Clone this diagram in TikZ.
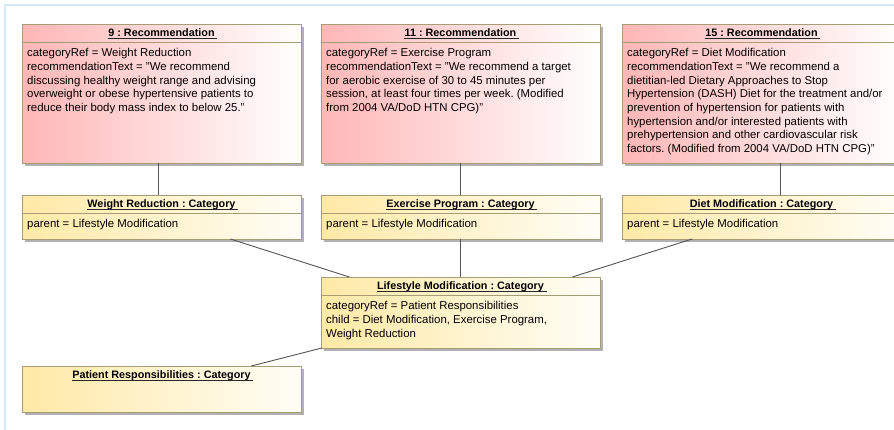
\documentclass[tikz,border=0pt]{standalone}
\usepackage{fontspec}
\setmainfont{Liberation Sans}
\usetikzlibrary{shadows}
\frenchspacing

\definecolor{recpink}{RGB}{255,182,182}
\definecolor{catyellow}{RGB}{255,233,166}
\definecolor{catwhite}{RGB}{255,254,246}
\definecolor{boxline}{RGB}{166,156,118}
\definecolor{shadowgray}{RGB}{178,178,178}
\definecolor{frameblue}{RGB}{212,232,249}
\definecolor{linkgray}{RGB}{85,85,85}

\tikzset{
  umlbox/.style={draw=boxline, line width=0.9pt, anchor=north west,
    inner sep=0pt, outer sep=0pt,
    drop shadow={shadow xshift=3pt, shadow yshift=-3pt, fill=shadowgray, opacity=1}},
  recbox/.style={umlbox, left color=recpink, right color=white,
    minimum width=279pt, minimum height=139pt},
  catbox/.style={umlbox, left color=catyellow, right color=catwhite,
    minimum width=279pt, minimum height=#1},
  hdrtext/.style={inner sep=0pt, anchor=base, font=\fontsize{10.8}{13}\selectfont\bfseries},
  bodytext/.style={inner sep=0pt, anchor=north west, align=left,
    font=\fontsize{11.4}{13.7}\selectfont},
  sepline/.style={draw=boxline, line width=0.9pt},
  uline/.style={draw=black!85, line width=0.7pt},
  link/.style={draw=linkgray, line width=0.9pt},
}

% header: title text, underline and separator of a box
\newcommand{\boxheader}[3][yes]{%
  \node[hdrtext] (#2h) at ([yshift=-12.5pt]#2.north) {#3};
  \draw[uline] ([yshift=-1.6pt]#2h.base west) -- ([xshift=2.5pt,yshift=-1.6pt]#2h.base east);
  \ifx\relax#1\relax\else
    \draw[sepline] ([yshift=-18.5pt]#2.north west) -- ([yshift=-18.5pt]#2.north east);
  \fi
}

\begin{document}
\begin{tikzpicture}[x=1pt, y=-1pt]
  \useasboundingbox (0,0) rectangle (894,429);
  \clip (0,0) rectangle (894,429);
  \fill[white] (0,0) rectangle (894,429);

  % diagram frame
  \draw[frameblue, line width=1.6pt] (5,440) -- (5,5) -- (900,5);

  % recommendation instances
  \node[recbox] (r9)  at (22,24)  {};
  \node[recbox] (r11) at (321,24) {};
  \node[recbox] (r15) at (622,24) {};

  % category instances
  \node[catbox=44pt] (wr) at (22,195)  {};
  \node[catbox=44pt] (ep) at (321,195) {};
  \node[catbox=44pt] (dm) at (622,195) {};
  \node[catbox=71pt] (lm) at (321,277) {};
  \node[catbox=46pt] (pr) at (22,366)  {};

  % headers
  \boxheader{r9}{9 : Recommendation}
  \boxheader{r11}{11 : Recommendation}
  \boxheader{r15}{15 : Recommendation}
  \boxheader{wr}{Weight Reduction : Category}
  \boxheader{ep}{Exercise Program : Category}
  \boxheader{dm}{Diet Modification : Category}
  \boxheader{lm}{Lifestyle Modification : Category}
  \boxheader[]{pr}{Patient Responsibilities : Category}

  % slot values
  \node[bodytext] at ([xshift=5pt,yshift=-24.2pt]r9.north west)
    {categoryRef = Weight Reduction\\
     recommendationText = "We recommend\\
     discussing healthy weight range and advising\\
     overweight or obese hypertensive patients to\\
     reduce their body mass index to below 25."};
  \node[bodytext] at ([xshift=5pt,yshift=-24.2pt]r11.north west)
    {categoryRef = Exercise Program\\
     recommendationText = "We recommend a target\\
     for aerobic exercise of 30 to 45 minutes per\\
     session, at least four times per week. (Modified\\
     from 2004 VA/DoD HTN CPG)"};
  \node[bodytext] at ([xshift=5pt,yshift=-24.2pt]r15.north west)
    {categoryRef = Diet Modification\\
     recommendationText = "We recommend a\\
     dietitian-led Dietary Approaches to Stop\\
     Hypertension (DASH) Diet for the treatment and/or\\
     prevention of hypertension for patients with\\
     hypertension and/or interested patients with\\
     prehypertension and other cardiovascular risk\\
     factors. (Modified from 2004 VA/DoD HTN CPG)"};
  \node[bodytext] at ([xshift=5pt,yshift=-24.2pt]wr.north west)
    {parent = Lifestyle Modification};
  \node[bodytext] at ([xshift=5pt,yshift=-24.2pt]ep.north west)
    {parent = Lifestyle Modification};
  \node[bodytext] at ([xshift=5pt,yshift=-24.2pt]dm.north west)
    {parent = Lifestyle Modification};
  \node[bodytext] at ([xshift=5pt,yshift=-24.2pt]lm.north west)
    {categoryRef = Patient Responsibilities\\
     child = Diet Modification, Exercise Program,\\
     Weight Reduction};

  % links
  \draw[link] (r9.south -| 158,0) -- (wr.north -| 158,0);
  \draw[link] (r11) -- (ep);
  \draw[link] (r15.south -| 780,0) -- (dm.north -| 780,0);
  \draw[link] (wr) -- (lm);
  \draw[link] (ep) -- (lm);
  \draw[link] (dm) -- (lm);
  \draw[link] (lm) -- (pr);
\end{tikzpicture}
\end{document}
